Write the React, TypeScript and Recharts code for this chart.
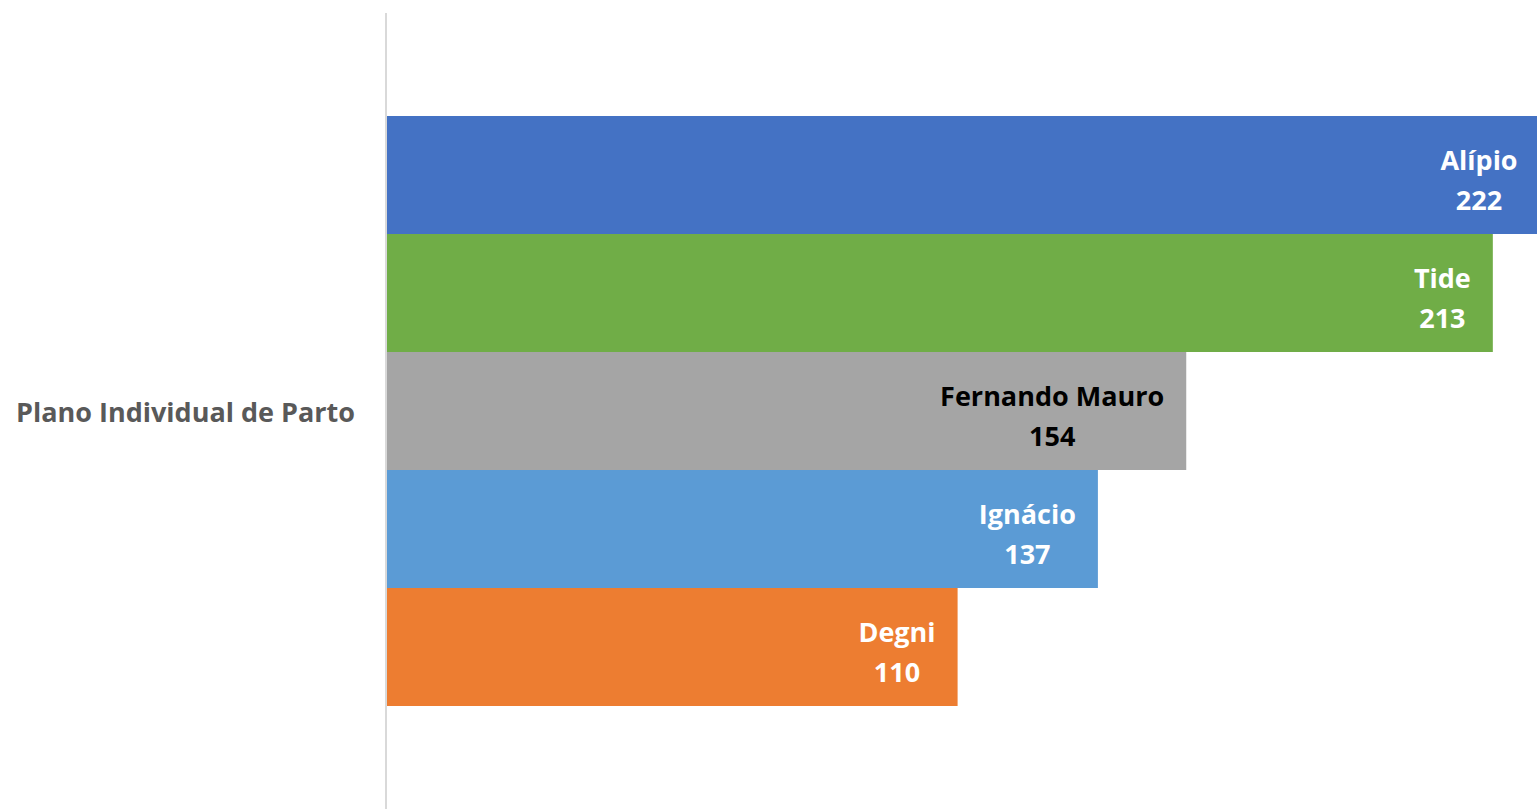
import React from "react";
import { BarChart, Bar, XAxis, YAxis, LabelList } from "recharts";

const categories = ["Plano Individual de Parto"];
const seriesKeys = ["alipio", "tide", "fernando", "ignacio", "degni"];
const seriesNames = ["Alípio", "Tide", "Fernando Mauro", "Ignácio", "Degni"];
const seriesValues = [222, 213, 154, 137, 110];
const seriesColors = ["#4472C4", "#70AD47", "#A5A5A5", "#5B9BD5", "#ED7D31"];
const labelColors = ["#FFFFFF", "#FFFFFF", "#000000", "#FFFFFF", "#FFFFFF"];

const FONT = "'Open Sans', Lato, sans-serif";
const FONT_SIZE = 27;

const data = categories.map((c) => {
  const row: Record<string, string | number> = { category: c };
  seriesKeys.forEach((k, i) => {
    row[k] = seriesValues[i];
  });
  return row;
});

let ctx: CanvasRenderingContext2D | null = null;
function measure(text: string): number {
  if (!ctx) {
    const c = document.createElement("canvas");
    ctx = c.getContext("2d");
  }
  if (!ctx) return text.length * FONT_SIZE * 0.6;
  ctx.font = `700 ${FONT_SIZE}px 'Open Sans'`;
  return ctx.measureText(text).width;
}

const makeLabel = (i: number) => (props: any) => {
  const { x, y, width, height } = props;
  const name = seriesNames[i];
  const val = String(seriesValues[i]);
  const blockW = Math.max(measure(name), measure(val));
  const end = Number(x) + Number(width);
  const cx = end - 22 - blockW / 2;
  const cy = Number(y) + Number(height) / 2;
  return (
    <g>
      <text x={cx} y={cy - 5} textAnchor="middle" fill={labelColors[i]} fontFamily={FONT} fontWeight={700} fontSize={FONT_SIZE}>
        {name}
      </text>
      <text x={cx} y={cy + 35} textAnchor="middle" fill={labelColors[i]} fontFamily={FONT} fontWeight={700} fontSize={FONT_SIZE}>
        {val}
      </text>
    </g>
  );
};

const CategoryTick = (props: any) => {
  const { x, y, payload } = props;
  return (
    <text x={Number(x) - 31} y={Number(y)} dy={11} textAnchor="end" fill="#595959" fontFamily={FONT} fontWeight={700} fontSize={FONT_SIZE}>
      {payload.value}
    </text>
  );
};

export default function App() {
  return (
    <div style={{ position: "absolute", left: 0, top: 0, width: 1537, height: 809, background: "#fff" }}>
      <BarChart
        width={1537}
        height={809}
        data={data}
        layout="vertical"
        margin={{ top: 13, right: 0, bottom: 0, left: 0 }}
        barCategoryGap={103}
        barGap={0}
      >
        <XAxis type="number" domain={[0, 221.5]} allowDataOverflow hide />
        <YAxis
          type="category"
          dataKey="category"
          width={386}
          axisLine={{ stroke: "#D9D9D9", strokeWidth: 2 }}
          tickLine={false}
          tickSize={0}
          tickMargin={0}
          tick={<CategoryTick />}
        />
        {seriesKeys.map((k, i) => (
          <Bar key={k} dataKey={k} name={seriesNames[i]} fill={seriesColors[i]} isAnimationActive={false}>
            <LabelList dataKey={k} content={makeLabel(i)} />
          </Bar>
        ))}
      </BarChart>
    </div>
  );
}
